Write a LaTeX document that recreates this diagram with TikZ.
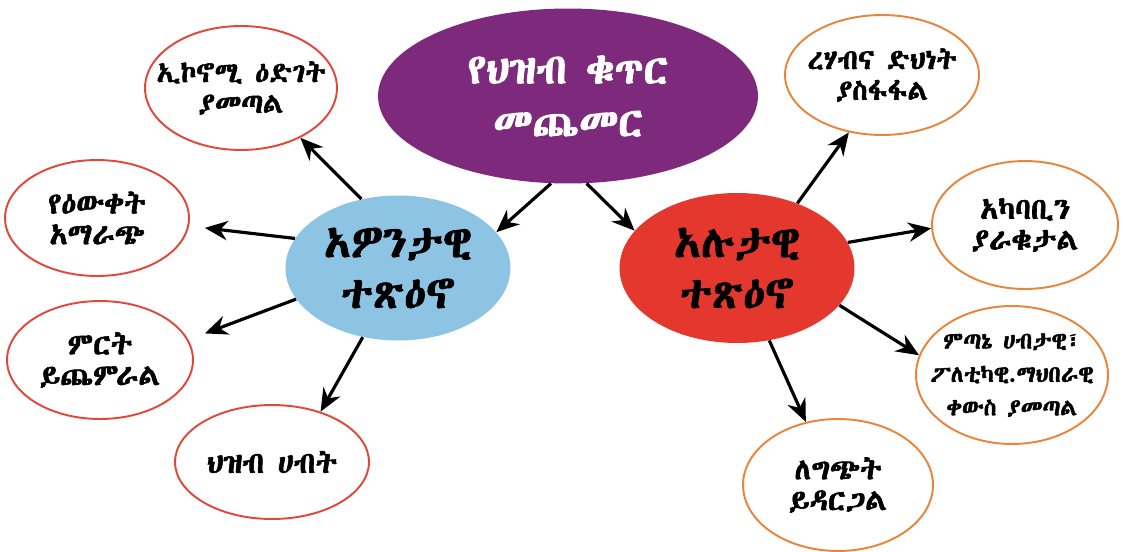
\documentclass[tikz,border=0pt]{standalone}
\usepackage{fontspec}
\usetikzlibrary{shapes.geometric,arrows.meta}
\IfFontExistsTF{Abyssinica SIL}{\newfontfamily\eth[AutoFakeBold=2]{Abyssinica SIL}}{%
 \IfFontExistsTF{Noto Sans Ethiopic}{\newfontfamily\eth[AutoFakeBold=2]{Noto Sans Ethiopic}}{%
  \IfFontExistsTF{Noto Serif Ethiopic}{\newfontfamily\eth[AutoFakeBold=2]{Noto Serif Ethiopic}}{%
   \IfFontExistsTF{FreeSerif}{\newfontfamily\eth[AutoFakeBold=2]{FreeSerif}}{\newfontfamily\eth{DejaVu Sans}}}}}
\definecolor{hubpurple}{RGB}{125,42,125}
\definecolor{hubblue}{RGB}{141,196,228}
\definecolor{hubred}{RGB}{228,55,45}
\definecolor{leftline}{RGB}{226,72,58}
\definecolor{rightline}{RGB}{232,133,58}
\begin{document}
\begin{tikzpicture}[x=0.02cm,y=-0.02cm,
  hub/.style={ellipse, inner xsep=-6pt, inner ysep=-3pt, align=center, font=\eth\bfseries\fontsize{25}{29}\selectfont},
  leaf/.style={ellipse, inner xsep=-12pt, inner ysep=-3pt, fill=white, line width=1.1pt, align=center, font=\eth\bfseries\fontsize{17}{17.5}\selectfont},
  leafl/.style={leaf, draw=leftline},
  leafr/.style={leaf, draw=rightline},
  smaller/.style={font=\eth\bfseries\fontsize{16}{17.5}\selectfont},
  arr/.style={line width=1.8pt, -{Stealth[length=13pt,width=11pt]}}]
\useasboundingbox (0,0) rectangle (1124,551);
\fill[white] (0,0) rectangle (1124,551);
% hubs
\node[hub, fill=hubpurple, text=white, minimum width=7.6cm, minimum height=3.5cm,
  font=\eth\bfseries\fontsize{24}{30}\selectfont] (top) at (568,96) {የህዝብ ቁጥር\\መጨመር};
\node[hub, fill=hubblue, minimum width=4.5cm, minimum height=2.9cm] (pos) at (398,268) {አዎንታዊ\\ተጽዕኖ};
\node[hub, fill=hubred, minimum width=4.7cm, minimum height=3.0cm] (neg) at (737,268) {አሉታዊ\\ተጽዕኖ};
% left leaves
\node[leafl, smaller, minimum width=3.84cm, minimum height=2.48cm] (eco) at (241,88) {ኢኮኖሚ ዕድገት\\ያመጣል};
\node[leafl, minimum width=3.68cm, minimum height=2.32cm] (know) at (97,218) {የዕውቀት\\አማራጭ};
\node[leafl, minimum width=3.72cm, minimum height=2.36cm] (prod) at (100,360) {ምርት\\ይጨምራል};
\node[leafl, minimum width=3.88cm, minimum height=2.28cm] (peop) at (272,462) {ህዝብ ሀብት};
% right leaves
\node[leafr, smaller, minimum width=3.88cm, minimum height=2.4cm] (hung) at (882,75) {ረሃብና ድህነት\\ያስፋፋል};
\node[leafr, minimum width=3.72cm, minimum height=2.56cm] (env) at (1025,225) {አካባቢን\\ያራቁታል};
\node[leafr, minimum width=3.84cm, minimum height=2.76cm,
  font=\eth\bfseries\fontsize{13.2}{19}\selectfont] (cris) at (1012,375) {ምጣኔ ሀብታዊ፣\\ፖለቲካዊ.ማህበራዊ\\ቀውስ ያመጣል};
\node[leafr, minimum width=3.8cm, minimum height=2.64cm] (conf) at (838,485) {ለግጭት\\ይዳርጋል};
% connectors
\draw[arr] (top.259) -- (pos.20);
\draw[arr] (top.282) -- (neg.160);
\draw[arr] (pos.118) -- (eco.-40);
\draw[arr, shorten >=9pt] (pos.164) -- (know.-5);
\draw[arr, shorten >=10pt] (pos.197) -- (prod.13);
\draw[arr] (pos.243) -- (peop.46);
\draw[arr] (neg.47) -- (hung.240);
\draw[arr] (neg.13) -- (env.182);
\draw[arr] (neg.-20) -- (cris.168);
\draw[arr] (neg.-66) -- (conf.117);
\end{tikzpicture}
\end{document}
